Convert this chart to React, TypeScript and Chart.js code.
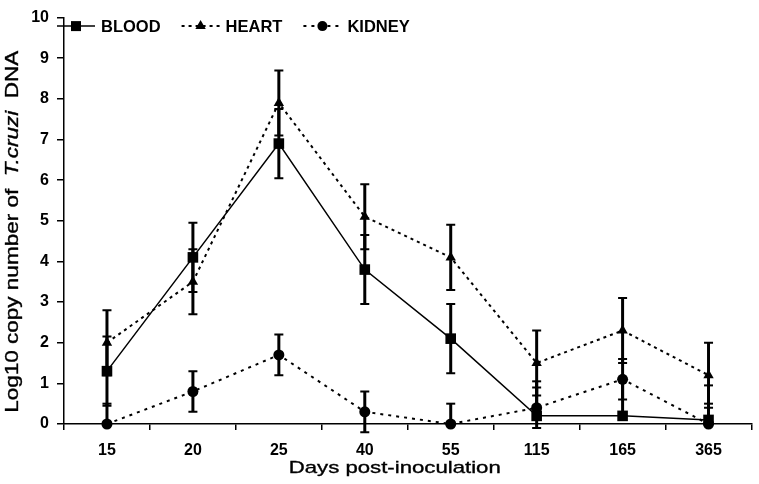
import React, { useEffect, useRef } from "react";
import { Chart, registerables } from "chart.js";

Chart.register(...registerables);

// ---- Data ----
const days = ["15", "20", "25", "40", "55", "115", "165", "365"];

const blood = [1.3, 4.1, 6.9, 3.8, 2.1, 0.2, 0.2, 0.1];
const bloodErrUp = [0.85, 0.85, 0.85, 0.85, 0.85, 0.85, 0.85, 0.85];
const bloodErrDown = [0.85, 0.85, 0.85, 0.85, 0.85, 0, 0, 0];

const heart = [2.0, 3.5, 7.9, 5.1, 4.1, 1.5, 2.3, 1.2];
const heartErrUp = [0.8, 0.8, 0.8, 0.8, 0.8, 0.8, 0.8, 0.8];
const heartErrDown = [0.8, 0.8, 0.8, 0.8, 0.8, 0.8, 0.8, 0.8];

const kidney = [0, 0.8, 1.7, 0.3, 0, 0.4, 1.1, 0];
const kidneyErrUp = [0.5, 0.5, 0.5, 0.5, 0.5, 0.5, 0.5, 0.5];
const kidneyErrDown = [0, 0.5, 0.5, 0.5, 0, 0.5, 0.5, 0];

const seriesNames = ["BLOOD", "HEART", "KIDNEY"];
const yMin = 0;
const yMax = 10;
const yStep = 1;
const xTitle = "Days post-inoculation";
const yTitleParts = [
  { text: "Log10 copy number of  ", italic: false },
  { text: "T.cruzi", italic: true },
  { text: "  DNA", italic: false },
];

const FONT = "'Liberation Sans', Arial, Helvetica, sans-serif";

function drawMarker(ctx: CanvasRenderingContext2D, style: string, x: number, y: number) {
  ctx.beginPath();
  if (style === "rect") {
    ctx.rect(x - 5, y - 5, 10, 10);
  } else if (style === "triangle") {
    ctx.moveTo(x, y - 6);
    ctx.lineTo(x + 5.2, y + 3);
    ctx.lineTo(x - 5.2, y + 3);
    ctx.closePath();
  } else {
    ctx.arc(x, y, 5, 0, Math.PI * 2);
  }
  ctx.fillStyle = "#000";
  ctx.fill();
}

const errorBarPlugin = {
  id: "errorBars",
  beforeDatasetsDraw(chart: any) {
    const ctx = chart.ctx as CanvasRenderingContext2D;
    const yScale = chart.scales.y;
    chart.data.datasets.forEach((ds: any, i: number) => {
      const meta = chart.getDatasetMeta(i);
      meta.data.forEach((pt: any, j: number) => {
        const v = ds.data[j];
        const up = ds.errUp[j];
        const down = ds.errDown[j];
        const top = yScale.getPixelForValue(v + up);
        const bot = yScale.getPixelForValue(v - down);
        ctx.save();
        ctx.strokeStyle = "#000";
        ctx.lineWidth = 3;
        ctx.beginPath();
        ctx.moveTo(pt.x, top);
        ctx.lineTo(pt.x, bot);
        ctx.stroke();
        ctx.lineWidth = 2;
        ctx.beginPath();
        if (up > 0) {
          ctx.moveTo(pt.x - 4.5, top);
          ctx.lineTo(pt.x + 4.5, top);
        }
        if (down > 0) {
          ctx.moveTo(pt.x - 4.5, bot);
          ctx.lineTo(pt.x + 4.5, bot);
        }
        ctx.stroke();
        ctx.restore();
      });
    });
  },
};

const legendPlugin = {
  id: "customLegend",
  afterDraw(chart: any) {
    const ctx = chart.ctx as CanvasRenderingContext2D;
    const ca = chart.chartArea;
    const yc = ca.top + 8.5;
    let x = ca.left - 7;
    ctx.save();
    ctx.font = `bold 16.5px ${FONT}`;
    ctx.textBaseline = "middle";
    chart.data.datasets.forEach((ds: any) => {
      ctx.strokeStyle = "#000";
      ctx.lineWidth = ds.borderDash && ds.borderDash.length ? 2 : 1.5;
      ctx.setLineDash(ds.borderDash || []);
      ctx.beginPath();
      ctx.moveTo(x, yc);
      ctx.lineTo(x + 38, yc);
      ctx.stroke();
      ctx.setLineDash([]);
      drawMarker(ctx, ds.pointStyle, x + 19, yc);
      ctx.fillStyle = "#000";
      ctx.fillText(ds.label, x + 44, yc + 1);
      x = x + 44 + ctx.measureText(ds.label).width + 21;
    });
    ctx.restore();
  },
};

const axisTitlePlugin = {
  id: "axisTitles",
  afterDraw(chart: any) {
    const ctx = chart.ctx as CanvasRenderingContext2D;
    const ca = chart.chartArea;
    ctx.save();
    ctx.fillStyle = "#000";
    ctx.strokeStyle = "#000";
    ctx.lineWidth = 0.35;
    // X title
    ctx.font = `17px ${FONT}`;
    ctx.textBaseline = "alphabetic";
    const xw = ctx.measureText(xTitle).width;
    const sx = 212 / xw;
    ctx.save();
    ctx.translate((ca.left + ca.right) / 2 - 13, ca.bottom + 49);
    ctx.scale(sx, 1);
    ctx.fillText(xTitle, -xw / 2, 0);
    ctx.strokeText(xTitle, -xw / 2, 0);
    ctx.restore();

    // Y title
    const parts = yTitleParts.map((p) => {
      ctx.font = `${p.italic ? "italic " : ""}18px ${FONT}`;
      return { ...p, w: ctx.measureText(p.text).width };
    });
    const total = parts.reduce((a, p) => a + p.w, 0);
    const sy = 362 / total;
    ctx.save();
    ctx.translate(18, (ca.top + ca.bottom) / 2 + 11);
    ctx.rotate(-Math.PI / 2);
    ctx.scale(sy, 1);
    let px = -total / 2;
    parts.forEach((p) => {
      ctx.font = `${p.italic ? "italic " : ""}18px ${FONT}`;
      ctx.fillText(p.text, px, 0);
      ctx.strokeText(p.text, px, 0);
      px += p.w;
    });
    ctx.restore();
    ctx.restore();
  },
};

export default function App() {
  const canvasRef = useRef<HTMLCanvasElement | null>(null);

  useEffect(() => {
    if (!canvasRef.current) return;
    const tickFont = { family: FONT, size: 16, weight: "bold" as const };
    const chart = new Chart(canvasRef.current, {
      type: "line",
      data: {
        labels: days,
        datasets: [
          {
            label: seriesNames[0],
            data: blood,
            errUp: bloodErrUp,
            errDown: bloodErrDown,
            borderColor: "#000",
            backgroundColor: "#000",
            borderWidth: 1.5,
            pointStyle: "rect",
            pointRadius: 7.5,
            pointBorderWidth: 0,
            pointBackgroundColor: "#000",
            tension: 0,
            clip: false,
          } as any,
          {
            label: seriesNames[1],
            data: heart,
            errUp: heartErrUp,
            errDown: heartErrDown,
            borderColor: "#000",
            backgroundColor: "#000",
            borderWidth: 2,
            borderDash: [3, 4],
            pointStyle: "triangle",
            pointRadius: 6,
            pointBorderWidth: 0,
            pointBackgroundColor: "#000",
            tension: 0,
            clip: false,
          } as any,
          {
            label: seriesNames[2],
            data: kidney,
            errUp: kidneyErrUp,
            errDown: kidneyErrDown,
            borderColor: "#000",
            backgroundColor: "#000",
            borderWidth: 2,
            borderDash: [3, 5],
            pointStyle: "circle",
            pointRadius: 5.5,
            pointBorderWidth: 0,
            pointBackgroundColor: "#000",
            tension: 0,
            clip: false,
          } as any,
        ],
      },
      options: {
        animation: false,
        responsive: true,
        maintainAspectRatio: false,
        layout: { padding: { top: 12, right: 1, left: 0, bottom: 0 } },
        plugins: {
          legend: { display: false },
          tooltip: { enabled: false },
          title: { display: false },
        },
        scales: {
          x: {
            type: "category",
            offset: true,
            grid: {
              offset: true,
              drawOnChartArea: false,
              drawTicks: true,
              tickLength: 6,
              color: "#000",
              lineWidth: 1.5,
            },
            border: { display: true, color: "#000", width: 1.5 },
            ticks: {
              color: "#000",
              font: tickFont,
              padding: 11,
              maxRotation: 0,
              autoSkip: false,
            },
            afterFit(s: any) {
              s.height = 60;
            },
          },
          y: {
            min: yMin,
            max: yMax,
            ticks: { stepSize: yStep, color: "#000", font: tickFont, padding: 8 },
            grid: {
              drawOnChartArea: false,
              drawTicks: true,
              tickLength: 7,
              color: "#000",
              lineWidth: 1.5,
            },
            border: { display: true, color: "#000", width: 1.5 },
            afterFit(s: any) {
              s.width = 64;
            },
          },
        },
      } as any,
      plugins: [errorBarPlugin, legendPlugin, axisTitlePlugin],
    });
    return () => chart.destroy();
  }, []);

  return (
    <div
      style={{
        position: "fixed",
        left: 0,
        top: 0,
        width: 759,
        height: 484,
        background: "#fff",
      }}
    >
      <canvas ref={canvasRef} />
    </div>
  );
}
